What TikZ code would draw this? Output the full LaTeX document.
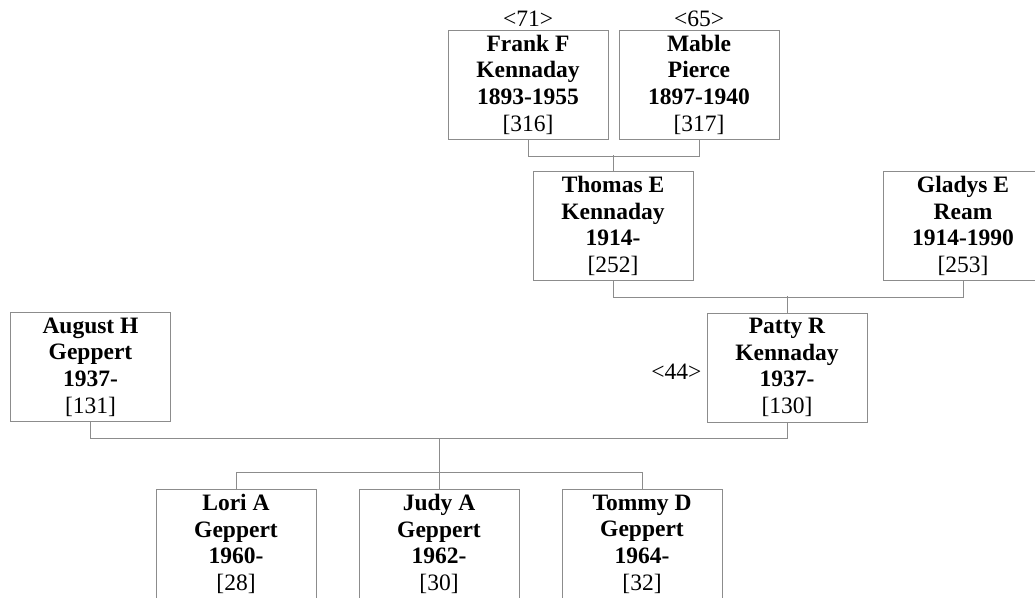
\documentclass[tikz,border=0pt]{standalone}
\usepackage{fontspec}
\setmainfont{Liberation Serif}
\usetikzlibrary{positioning}

\begin{document}
\begin{tikzpicture}[x=1pt, y=-1pt,
		person/.style={draw=black!45, line width=1pt, minimum width=160pt, minimum height=109pt, inner sep=0pt, align=center, font=\fontsize{23.5}{26.7}\selectfont\bfseries},
		tag/.style={inner sep=0pt, font=\fontsize{23.5}{26.7}\selectfont},
		link/.style={draw=black!45, line width=1pt}]
		\useasboundingbox (0,0) rectangle (1035,597);
		\clip (0,0) rectangle (1035,597);
		
		\node[person] (frank) at (528,84.5) {Frank F\\Kennaday\\1893-1955\\\normalfont[316]};
		\node[person] (mable) [right=10pt of frank] {Mable\\Pierce\\1897-1940\\\normalfont[317]};
		\node[person] (thomas) at (613,226) {Thomas E\\Kennaday\\1914-\\\normalfont[252]};
		\node[person] (gladys) [right=189pt of thomas] {Gladys E\\Ream\\1914-1990\\\normalfont[253]};
		\node[person] (patty) at (787,367.5) {Patty R\\Kennaday\\1937-\\\normalfont[130]};
		\node[person] (august) at (90.5,367) {August H\\Geppert\\1937-\\\normalfont[131]};
		\node[person] (judy) at (439,544) {Judy A\\Geppert\\1962-\\\normalfont[30]};
		\node[person] (lori) [left=42pt of judy] {Lori A\\Geppert\\1960-\\\normalfont[28]};
		\node[person] (tommy) [right=42pt of judy] {Tommy D\\Geppert\\1964-\\\normalfont[32]};
		
		\node[tag] (n71) [above=3pt of frank] {<71>};
		\node[tag] (n65) [above=3pt of mable] {<65>};
		\node[tag] (n44) [left=5pt of patty, yshift=-4pt] {<44>};
		
		\path[link]
		(frank.south) -- ++(0,16.5) -| (mable.south)
		(thomas.north) -- ++(0,-16.5)
		(thomas.south) -- ++(0,16) -| (gladys.south)
		(patty.north) -- ++(0,-17)
		(august.south) -- ++(0,16.5) -| (patty.south)
		(judy.north) -- ++(0,-51)
		(lori.north) -- ++(0,-17) -| (tommy.north);
	\end{tikzpicture}
\end{document}
